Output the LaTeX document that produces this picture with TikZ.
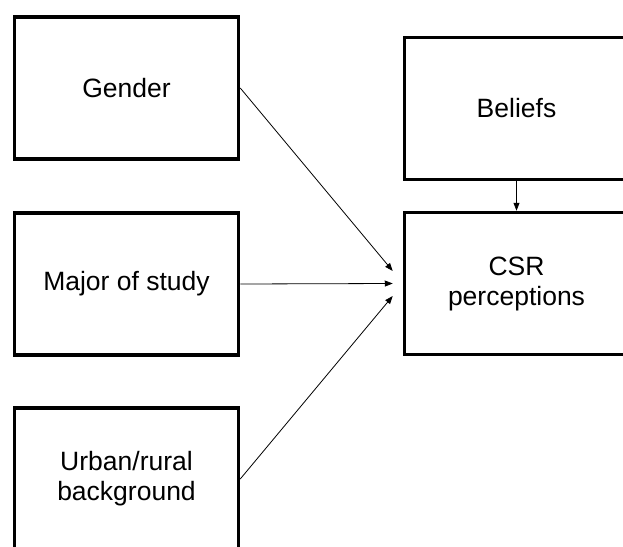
\documentclass[tikz,border=0pt]{standalone}
\usepackage{fontspec}
\setmainfont{Liberation Sans}
\usetikzlibrary{arrows.meta, positioning}

\begin{document}
\begin{tikzpicture}[x=1pt, y=-1pt,
    varbox/.style={draw, line width=3.5pt, minimum width=224pt, minimum height=142pt,
      align=center, inner sep=0pt, font=\fontsize{26.5}{30}\selectfont},
    link/.style={-{Triangle[length=8pt, width=6pt]}, line width=0.8pt}]
    \useasboundingbox (0,0) rectangle (623,546);
    \clip (0,0) rectangle (623,546);
    % predictors
    \node[varbox] (gender) at (126.5,88) {Gender};
    \node[varbox] (major) at (126.5,284) {Major of study};
    \node[varbox] (urban) at (126.5,479) {Urban/rural\\background};
    % outcome side
    \node[varbox] (beliefs) at (516.5,108.5) {Beliefs};
    \node[varbox] (csr) at (516.5,283.5) {CSR\\perceptions};
    \draw[link] (gender.east) -- ([xshift=-10pt, yshift=12.5pt]csr.west);
    \draw[link] (major.east) -- ([xshift=-10pt]csr.west);
    \draw[link] (urban.east) -- ([xshift=-10pt, yshift=-12.5pt]csr.west);
    \draw[link] (beliefs.south) -- (csr.north);
  \end{tikzpicture}
\end{document}
